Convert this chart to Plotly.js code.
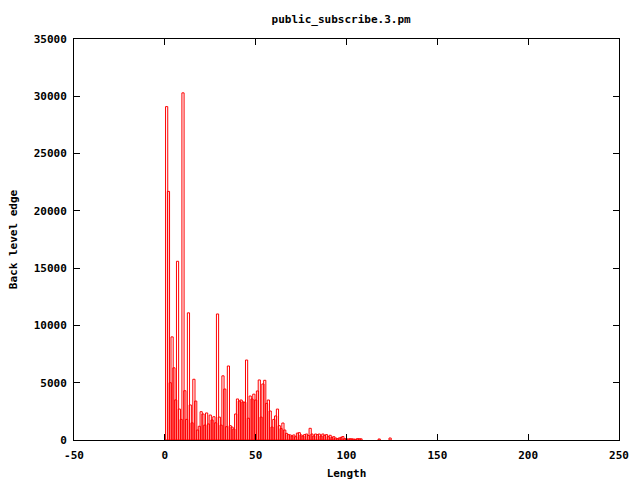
<!DOCTYPE html>
<html>
<head>
<meta charset="utf-8">
<script src="https://cdn.plot.ly/plotly-3.0.1.min.js"></script>
<style>html,body{margin:0;padding:0;background:#fff;}#chart{width:640px;height:480px;}</style>
</head>
<body>
<div id="chart"></div>
<script>
// Length values (x) and counts (y)
const lengths = [
  1,2,3,4,5,6,7,8,9,10,
  11,12,13,14,15,16,17,18,19,20,
  21,22,23,24,25,26,27,28,29,30,
  31,32,33,34,35,36,37,38,39,40,
  41,42,43,44,45,46,47,48,49,50,
  51,52,53,54,55,56,57,58,59,60,
  61,62,63,64,65,66,67,68,69,70,
  71,72,73,74,75,76,77,78,79,80,
  81,82,83,84,85,86,87,88,89,90,
  91,92,93,94,95,96,97,98,99,100,
  101,102,103,104,105,106,107,108,118,124
];
const counts = [
  29100,21700,5000,9000,6300,3500,15600,2700,1800,30300,
  4300,1800,11100,3060,1500,5300,3400,870,1200,2470,
  2270,1300,2360,1400,2180,1750,2030,1500,11000,2000,
  1300,5600,4450,1160,6460,1250,1130,960,2270,3580,
  3400,3490,3320,3300,6980,1900,3840,3580,4000,3490,
  4280,5240,2000,4890,5210,3200,3490,2530,1130,1800,
  2100,2700,1250,1000,1480,870,580,470,440,350,
  440,290,600,640,440,350,470,520,400,1020,
  520,350,520,470,520,350,520,410,470,290,
  410,230,290,175,115,175,230,300,115,100,
  90,110,100,80,60,115,110,100,90,175
];
const xTicks = [-50, 0, 50, 100, 150, 200, 250];
const yTicks = [0, 5000, 10000, 15000, 20000, 25000, 30000, 35000];

const font = {family: '"DejaVu Sans Mono", "Liberation Mono", monospace', size: 11, color: '#000', weight: 'bold'};

const trace = {
  type: 'bar',
  x: lengths,
  y: counts,
  width: 1.2,
  marker: {color: 'rgba(255,255,255,0)', line: {color: '#ff0000', width: 1}},
  hoverinfo: 'none'
};

const layout = {
  width: 640, height: 480,
  margin: {l: 74, r: 21, t: 39, b: 40},
  paper_bgcolor: '#fff', plot_bgcolor: '#fff',
  showlegend: false,
  font: font,
  title: {text: 'public_subscribe.3.pm', x: 0.533, xanchor: 'center', y: 0.96, yanchor: 'middle', font: font},
  xaxis: {
    range: [-50, 250], tickvals: xTicks, ticktext: xTicks.map(String),
    ticks: 'inside', ticklen: 6, tickcolor: '#000', mirror: 'ticks',
    showline: true, linecolor: '#000', linewidth: 1, showgrid: false, zeroline: false,
    tickfont: font, ticklabelstandoff: 5,
    title: {text: 'Length', font: font, standoff: 12}
  },
  yaxis: {
    range: [0, 35000], tickvals: yTicks, ticktext: yTicks.map(String),
    ticks: 'inside', ticklen: 6, tickcolor: '#000', mirror: 'ticks',
    showline: true, linecolor: '#000', linewidth: 1, showgrid: false, zeroline: false,
    tickfont: font, ticklabelstandoff: 4,
    title: {text: 'Back level edge', font: font, standoff: 13}
  },
  bargap: 0
};

Plotly.newPlot('chart', [trace], layout, {staticPlot: true, displayModeBar: false});
</script>
</body>
</html>
